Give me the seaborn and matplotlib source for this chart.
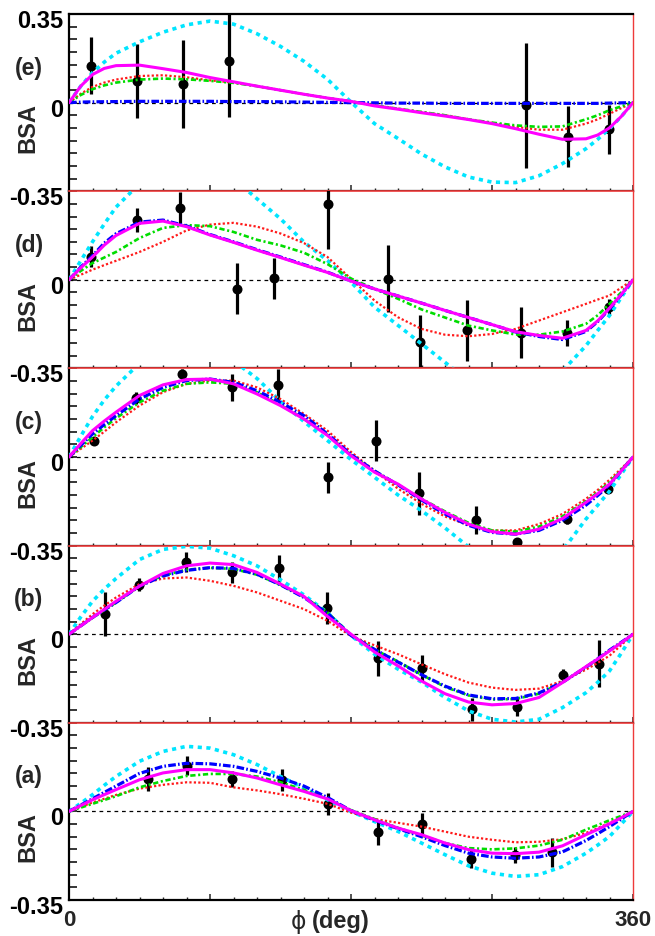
import matplotlib
matplotlib.use("Agg")
import matplotlib.pyplot as plt
import matplotlib.transforms as mtransforms
import numpy as np
import pandas as pd
import seaborn as sns

# ---------------------------------------------------------------------------
# Measured beam-spin asymmetries (one list per kinematic bin)
# ---------------------------------------------------------------------------
E_PHI = [14.0, 43.2, 72.5, 102.3, 291.4, 318.2, 344.8]
E_BSA = [0.146, 0.086, 0.073, 0.165, -0.010, -0.134, -0.105]
E_ERR = [0.112, 0.145, 0.173, 0.220, 0.247, 0.120, 0.097]

D_PHI = [13.8, 43.2, 70.8, 107.2, 130.8, 165.5, 203.4, 224.0, 253.8, 288.5, 317.8, 344.6]
D_BSA = [0.092, 0.237, 0.283, -0.035, 0.006, 0.299, 0.005, -0.245, -0.200, -0.209, -0.209, -0.108]
D_ERR = [0.043, 0.047, 0.063, 0.100, 0.080, 0.178, 0.133, 0.104, 0.122, 0.100, 0.051, 0.032]

C_PHI = [16.0, 42.8, 72.3, 103.8, 133.6, 165.5, 195.9, 223.6, 259.7, 286.1, 318.0, 343.8]
C_BSA = [0.065, 0.232, 0.328, 0.276, 0.286, -0.080, 0.065, -0.144, -0.250, -0.335, -0.245, -0.127]
C_ERR = [0.015, 0.024, 0.020, 0.053, 0.063, 0.061, 0.081, 0.086, 0.055, 0.015, 0.020, 0.015]

B_PHI = [23.0, 44.9, 74.5, 104.2, 134.2, 164.5, 197.4, 225.0, 257.0, 285.7, 315.5, 338.4]
B_BSA = [0.079, 0.195, 0.286, 0.244, 0.260, 0.102, -0.095, -0.132, -0.297, -0.288, -0.162, -0.116]
B_ERR = [0.086, 0.026, 0.040, 0.042, 0.053, 0.063, 0.070, 0.051, 0.044, 0.036, 0.025, 0.094]

A_PHI = [50.6, 75.1, 103.8, 135.7, 165.5, 197.0, 225.0, 256.5, 284.6, 308.5]
A_BSA = [0.128, 0.181, 0.128, 0.125, 0.029, -0.083, -0.049, -0.188, -0.171, -0.162]
A_ERR = [0.047, 0.037, 0.030, 0.044, 0.043, 0.050, 0.043, 0.036, 0.031, 0.056]

# ---------------------------------------------------------------------------
# Model predictions, tabulated in phi (denser near the end points)
# ---------------------------------------------------------------------------
PHI_GRID = [0, 7.5, 15, 22.5, 30, 45, 60, 75, 90, 105, 120, 135, 150, 165, 180,
            195, 210, 225, 240, 255, 270, 285, 300, 315, 330, 337.5, 345, 352.5, 360]

E_CYAN = [0, 0.065, 0.118, 0.160, 0.195, 0.240, 0.278, 0.307, 0.322, 0.310, 0.272, 0.222, 0.163, 0.092, 0.002,
          -0.083, -0.142, -0.203, -0.254, -0.294, -0.314, -0.316, -0.289, -0.241, -0.182, -0.145, -0.103, -0.055, 0]
E_RED = [0, 0.035, 0.062, 0.079, 0.091, 0.105, 0.108, 0.100, 0.088, 0.079, 0.065, 0.049, 0.033, 0.018, 0.005,
         -0.011, -0.024, -0.037, -0.050, -0.066, -0.080, -0.096, -0.107, -0.107, -0.083, -0.066, -0.044, -0.022, 0]
E_GREEN = [0, 0.030, 0.053, 0.068, 0.079, 0.091, 0.095, 0.092, 0.086, 0.078, 0.065, 0.049, 0.033, 0.018, 0.005,
           -0.011, -0.024, -0.037, -0.050, -0.066, -0.079, -0.090, -0.096, -0.094, -0.066, -0.050, -0.030, -0.015, 0]
E_BLUE = [0, 0.002, 0.003, 0.0035, 0.004, 0.005, 0.005, 0.005, 0.005, 0.004, 0.004, 0.003, 0.002, 0.001, 0.0,
          -0.001, -0.002, -0.002, -0.003, -0.003, -0.003, -0.003, -0.003, -0.003, -0.003, -0.003, -0.002, -0.001, 0]
E_MAGENTA = [0, 0.065, 0.111, 0.135, 0.146, 0.148, 0.134, 0.119, 0.099, 0.082, 0.065, 0.049, 0.033, 0.018, 0.005,
             -0.013, -0.026, -0.040, -0.053, -0.067, -0.083, -0.103, -0.125, -0.145, -0.143, -0.128, -0.100, -0.055, 0]

D_CYAN = [0, 0.075, 0.150, 0.220, 0.287, 0.380, 0.440, 0.460, 0.450, 0.400, 0.320, 0.241, 0.149, 0.076, -0.009,
          -0.108, -0.180, -0.253, -0.326, -0.400, -0.450, -0.470, -0.450, -0.360, -0.260, -0.200, -0.141, -0.070, 0]
D_RED = [0, 0.020, 0.040, 0.058, 0.075, 0.110, 0.150, 0.195, 0.218, 0.225, 0.210, 0.183, 0.145, 0.090, 0.004,
         -0.082, -0.148, -0.194, -0.217, -0.223, -0.214, -0.194, -0.161, -0.128, -0.095, -0.078, -0.062, -0.031, 0]
D_GREEN = [0, 0.035, 0.066, 0.088, 0.110, 0.165, 0.205, 0.216, 0.212, 0.189, 0.158, 0.136, 0.107, 0.062, 0.005,
           -0.036, -0.075, -0.117, -0.149, -0.181, -0.200, -0.216, -0.217, -0.204, -0.174, -0.140, -0.095, -0.050, 0]
D_BLUE = [0, 0.050, 0.095, 0.145, 0.182, 0.228, 0.236, 0.213, 0.179, 0.150, 0.119, 0.090, 0.060, 0.030, -0.005,
          -0.036, -0.064, -0.092, -0.121, -0.149, -0.177, -0.206, -0.224, -0.236, -0.204, -0.165, -0.115, -0.060, 0]
D_MAGENTA = [0, 0.047, 0.090, 0.137, 0.175, 0.223, 0.232, 0.210, 0.177, 0.148, 0.117, 0.088, 0.058, 0.029, -0.005,
             -0.036, -0.064, -0.092, -0.121, -0.149, -0.177, -0.205, -0.220, -0.231, -0.200, -0.162, -0.112, -0.058, 0]

C_CYAN = [0, 0.082, 0.160, 0.225, 0.280, 0.370, 0.430, 0.460, 0.450, 0.380, 0.310, 0.220, 0.140, 0.065, -0.010,
          -0.080, -0.150, -0.212, -0.280, -0.355, -0.420, -0.450, -0.430, -0.370, -0.245, -0.190, -0.135, -0.068, 0]
C_RED = [0, 0.032, 0.065, 0.100, 0.137, 0.203, 0.256, 0.289, 0.302, 0.302, 0.275, 0.229, 0.170, 0.104, 0.020,
         -0.055, -0.125, -0.185, -0.235, -0.270, -0.290, -0.290, -0.265, -0.225, -0.165, -0.130, -0.090, -0.046, 0]
C_GREEN = [0, 0.039, 0.078, 0.117, 0.153, 0.216, 0.262, 0.289, 0.295, 0.289, 0.256, 0.206, 0.150, 0.087, 0.008,
           -0.055, -0.110, -0.165, -0.215, -0.260, -0.290, -0.295, -0.275, -0.235, -0.175, -0.140, -0.100, -0.051, 0]
C_BLUE = [0, 0.046, 0.091, 0.128, 0.163, 0.229, 0.275, 0.302, 0.308, 0.295, 0.262, 0.216, 0.163, 0.091, 0.010,
          -0.055, -0.110, -0.170, -0.225, -0.270, -0.298, -0.305, -0.290, -0.250, -0.190, -0.152, -0.110, -0.056, 0]
C_MAGENTA = [0, 0.053, 0.104, 0.142, 0.177, 0.243, 0.285, 0.306, 0.308, 0.289, 0.249, 0.203, 0.150, 0.085, 0.005,
             -0.060, -0.107, -0.166, -0.219, -0.265, -0.295, -0.305, -0.285, -0.243, -0.179, -0.145, -0.107, -0.055, 0]

B_CYAN = [0, 0.068, 0.130, 0.178, 0.220, 0.295, 0.335, 0.347, 0.340, 0.310, 0.270, 0.215, 0.155, 0.085, -0.005,
          -0.079, -0.138, -0.189, -0.250, -0.303, -0.336, -0.347, -0.336, -0.290, -0.231, -0.190, -0.145, -0.075, 0]
B_RED = [0, 0.040, 0.079, 0.113, 0.145, 0.198, 0.220, 0.224, 0.211, 0.191, 0.165, 0.132, 0.099, 0.053, -0.007,
         -0.044, -0.079, -0.119, -0.158, -0.191, -0.211, -0.220, -0.215, -0.185, -0.140, -0.113, -0.085, -0.043, 0]
B_GREEN = [0, 0.033, 0.065, 0.095, 0.125, 0.190, 0.232, 0.255, 0.262, 0.258, 0.235, 0.195, 0.147, 0.086, -0.003,
           -0.060, -0.108, -0.160, -0.208, -0.242, -0.258, -0.256, -0.235, -0.190, -0.130, -0.098, -0.065, -0.033, 0]
B_BLUE = [0, 0.033, 0.066, 0.096, 0.125, 0.190, 0.230, 0.252, 0.263, 0.260, 0.237, 0.195, 0.145, 0.083, -0.005,
          -0.060, -0.110, -0.160, -0.205, -0.240, -0.255, -0.254, -0.232, -0.190, -0.130, -0.097, -0.063, -0.032, 0]
B_MAGENTA = [0, 0.033, 0.066, 0.098, 0.130, 0.190, 0.240, 0.270, 0.281, 0.275, 0.244, 0.198, 0.149, 0.070, 0.0,
             -0.070, -0.125, -0.185, -0.235, -0.268, -0.279, -0.274, -0.250, -0.191, -0.128, -0.098, -0.066, -0.034, 0]

A_CYAN = [0, 0.032, 0.066, 0.103, 0.138, 0.198, 0.237, 0.257, 0.250, 0.224, 0.185, 0.138, 0.092, 0.046, 0.0,
          -0.040, -0.079, -0.125, -0.171, -0.215, -0.244, -0.257, -0.250, -0.218, -0.165, -0.133, -0.099, -0.050, 0]
A_RED = [0, 0.018, 0.035, 0.050, 0.065, 0.090, 0.105, 0.115, 0.113, 0.095, 0.083, 0.068, 0.050, 0.030, -0.005,
         -0.030, -0.045, -0.060, -0.080, -0.100, -0.112, -0.122, -0.120, -0.110, -0.085, -0.066, -0.045, -0.023, 0]
A_GREEN = [0, 0.015, 0.030, 0.045, 0.060, 0.095, 0.120, 0.140, 0.148, 0.148, 0.138, 0.115, 0.085, 0.050, 0.005,
           -0.030, -0.065, -0.095, -0.125, -0.145, -0.150, -0.146, -0.135, -0.112, -0.072, -0.054, -0.035, -0.018, 0]
A_BLUE = [0, 0.025, 0.050, 0.075, 0.100, 0.150, 0.178, 0.190, 0.188, 0.178, 0.158, 0.132, 0.100, 0.055, 0.003,
          -0.035, -0.068, -0.100, -0.135, -0.165, -0.180, -0.185, -0.180, -0.160, -0.115, -0.088, -0.060, -0.030, 0]
A_MAGENTA = [0, 0.023, 0.046, 0.066, 0.086, 0.125, 0.152, 0.165, 0.165, 0.152, 0.132, 0.105, 0.079, 0.049, 0.003,
             -0.033, -0.066, -0.092, -0.125, -0.151, -0.165, -0.167, -0.161, -0.136, -0.092, -0.071, -0.049, -0.025, 0]

PANELS = ["e", "d", "c", "b", "a"]          # top to bottom
POINTS = {
    "e": (E_PHI, E_BSA, E_ERR),
    "d": (D_PHI, D_BSA, D_ERR),
    "c": (C_PHI, C_BSA, C_ERR),
    "b": (B_PHI, B_BSA, B_ERR),
    "a": (A_PHI, A_BSA, A_ERR),
}
CURVES = {
    "e": dict(cyan=E_CYAN, red=E_RED, green=E_GREEN, blue=E_BLUE, magenta=E_MAGENTA),
    "d": dict(cyan=D_CYAN, red=D_RED, green=D_GREEN, blue=D_BLUE, magenta=D_MAGENTA),
    "c": dict(cyan=C_CYAN, red=C_RED, green=C_GREEN, blue=C_BLUE, magenta=C_MAGENTA),
    "b": dict(cyan=B_CYAN, red=B_RED, green=B_GREEN, blue=B_BLUE, magenta=B_MAGENTA),
    "a": dict(cyan=A_CYAN, red=A_RED, green=A_GREEN, blue=A_BLUE, magenta=A_MAGENTA),
}
STYLES = {
    "cyan": dict(color="#00e5ff", linewidth=2.6, linestyle=(0, (1.15, 1.25))),
    "red": dict(color="#ff1a1a", linewidth=1.6, linestyle=(0, (1.0, 1.0))),
    "green": dict(color="#00dd00", linewidth=1.9, linestyle=(0, (2.0, 1.0, 0.8, 1.0))),
    "blue": dict(color="#0000ff", linewidth=2.3, linestyle=(0, (2.4, 0.7, 0.5, 0.7))),
    "magenta": dict(color="#ff00ff", linewidth=2.2, linestyle="-"),
}
MODEL_ORDER = ["cyan", "red", "green", "blue", "magenta"]

sns.set_style("ticks")
plt.rcParams["font.family"] = ["Liberation Sans", "DejaVu Sans"]
plt.rcParams["font.weight"] = "bold"

FRAME_RED = "#ee3a3a"
W_PX, H_PX = 655, 937
fig = plt.figure(figsize=(W_PX / 100, H_PX / 100), dpi=100, facecolor="white")

left, width = 69 / W_PX, 564 / W_PX
panel_h = 177.2 / H_PX
bottom0 = 36 / H_PX
yticks = np.round(np.arange(-0.35, 0.351, 0.05), 2)
label_shift = mtransforms.ScaledTranslation(0, -0.04, fig.dpi_scale_trans)

for i, key in enumerate(PANELS):
    ax = fig.add_axes([left, bottom0 + (4 - i) * panel_h, width, panel_h])
    ax.set_facecolor("white")

    ax.axhline(0, color="black", linewidth=0.9, linestyle=(0, (3, 3)), zorder=1)

    phi, bsa, err = POINTS[key]
    pts = pd.DataFrame({"phi": phi, "bsa": bsa, "err": err})
    ax.errorbar(pts["phi"], pts["bsa"], yerr=pts["err"], fmt="none", ecolor="black",
                elinewidth=2.3, capsize=0, zorder=3)
    sns.scatterplot(data=pts, x="phi", y="bsa", ax=ax, color="black", s=52,
                    edgecolor="black", linewidth=0, zorder=3, legend=False)

    for name in MODEL_ORDER:
        sns.lineplot(x=PHI_GRID, y=CURVES[key][name], ax=ax, legend=False,
                     zorder=4, **STYLES[name])

    ax.set_xlim(0, 360)
    ax.set_ylim(-0.35, 0.35)
    ax.set_xlabel("")
    ax.set_ylabel("")

    # y axis: ticks every 0.05, labels at the edges and at zero
    ax.set_yticks(yticks)
    ylabels = []
    for t in yticks:
        if np.isclose(t, -0.35):
            ylabels.append("-0.35")
        elif np.isclose(t, 0.0):
            ylabels.append("0")
        elif np.isclose(t, 0.35) and key == "e":
            ylabels.append("0.35")
        else:
            ylabels.append("")
    ax.set_yticklabels(ylabels, fontsize=17, fontweight="bold")
    ax.tick_params(axis="y", direction="in", length=5.8, width=1.1, pad=4.0, colors="black")
    for lab in ax.get_yticklabels():
        lab.set_transform(lab.get_transform() + label_shift)

    # x axis: majors every 90 deg, minors every 15 deg
    ax.set_xticks([0, 90, 180, 270, 360])
    ax.set_xticks(np.arange(0, 361, 15), minor=True)
    ax.tick_params(axis="x", which="major", direction="in", length=4.3, width=1.1)
    ax.tick_params(axis="x", which="minor", direction="in", length=2.5, width=1.0)
    if key == "a":
        ax.set_xticklabels(["0", "", "", "", "360"], fontsize=16, fontweight="bold")
        ax.tick_params(axis="x", which="major", pad=6.5)
    else:
        ax.set_xticklabels([])

    ax.spines["left"].set(color="black", linewidth=1.6)
    ax.spines["bottom"].set(color="black", linewidth=1.6)
    ax.spines["right"].set(color=FRAME_RED, linewidth=1.0)
    if key == "e":
        ax.spines["top"].set(color="black", linewidth=1.6)
    else:
        ax.spines["top"].set(color=FRAME_RED, linewidth=1.2)

    ax.text(-0.071, 0.70, f"({key})", transform=ax.transAxes, ha="center", va="center",
            fontsize=16.5, fontweight="bold")
    ax.text(-0.073, 0.36, "BSA", transform=ax.transAxes, ha="center", va="center",
            rotation=90, fontsize=17, fontweight="bold")

# axis title below the bottom panel
fig.text(298 / W_PX, 1 - 922 / H_PX, "ϕ", ha="center", va="center", fontsize=17,
         fontweight="normal", family=["DejaVu Sans"])
fig.text(312 / W_PX, 1 - 922 / H_PX, "(deg)", ha="left", va="center", fontsize=17,
         fontweight="bold")

fig.savefig("out.png", dpi=100, facecolor="white")
